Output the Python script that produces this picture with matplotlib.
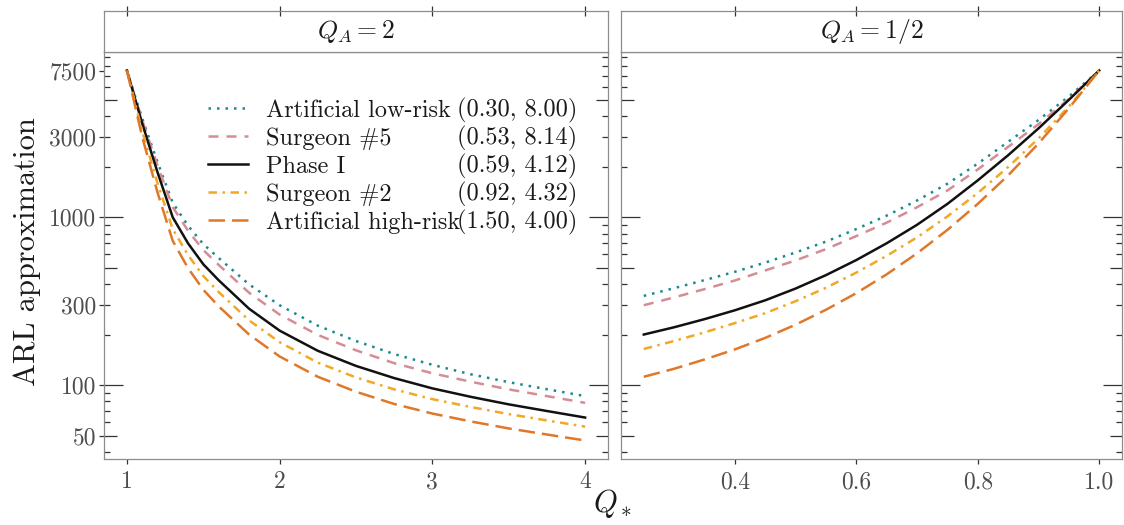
import numpy as np
import matplotlib
matplotlib.use('Agg')
import matplotlib.pyplot as plt
from matplotlib.ticker import FixedLocator, NullFormatter

plt.rcParams['font.family'] = 'serif'
plt.rcParams['font.serif'] = ['cmr10']
plt.rcParams['mathtext.fontset'] = 'cm'
plt.rcParams['axes.formatter.use_mathtext'] = True

# Q_* grid and ARL approximations for Q_A = 2
q_qa2 = [1.0, 1.1, 1.2, 1.3, 1.4, 1.5, 1.6, 1.8, 2.0, 2.25, 2.5, 2.75, 3.0, 3.25, 3.5, 3.75, 4.0]
low_risk_qa2 = [7500, 3890, 2140, 1220, 891, 692, 573, 398, 299, 226, 183, 153, 132, 116, 104, 94.4, 85.9]
surgeon5_qa2 = [7500, 3800, 2040, 1150, 832, 638, 521, 355, 263, 199, 161, 135, 117.5, 104.7, 94.2, 85.9, 78.3]
phase1_qa2 = [7500, 3630, 1860, 1000, 700, 525, 422, 285, 211, 160, 130, 110, 95.5, 85.1, 76.7, 70.0, 64.0]
surgeon2_qa2 = [7500, 3270, 1600, 851, 596, 447, 359, 243, 180, 136, 111, 94.2, 82.4, 74.0, 67.1, 61.5, 56.5]
high_risk_qa2 = [7500, 3020, 1410, 724, 498, 370, 295, 200, 148, 112, 91.2, 77.1, 67.6, 60.7, 55.1, 50.7, 46.7]

# Q_* grid and ARL approximations for Q_A = 1/2
q_qa05 = [0.25, 0.30, 0.35, 0.40, 0.45, 0.50, 0.55, 0.60, 0.65, 0.70, 0.75, 0.80, 0.85, 0.90, 0.95, 1.0]
low_risk_qa05 = [340, 378, 422, 473, 537, 617, 716, 851, 1023, 1259, 1585, 2089, 2818, 3802, 5248, 7500]
surgeon5_qa05 = [299, 333, 373, 420, 482, 553, 646, 773, 929, 1148, 1445, 1928, 2630, 3589, 5070, 7500]
phase1_qa05 = [200, 221, 247, 279, 320, 376, 452, 556, 700, 902, 1202, 1660, 2344, 3388, 5012, 7500]
surgeon2_qa05 = [164, 183, 206, 234, 268, 316, 380, 468, 589, 759, 1012, 1396, 1995, 2951, 4571, 7500]
high_risk_qa05 = [112, 125, 142, 163, 191, 229, 281, 353, 457, 610, 841, 1202, 1778, 2754, 4467, 7500]

series_names = ['Artificial low-risk', 'Surgeon #5', 'Phase I', 'Surgeon #2', 'Artificial high-risk']
series_params = ['(0.30, 8.00)', '(0.53, 8.14)', '(0.59, 4.12)', '(0.92, 4.32)', '(1.50, 4.00)']

y_breaks = [50, 100, 300, 1000, 3000, 7500]
y_labels = ['50', '100', '300', '1000', '3000', '7500']
x_breaks_qa2 = [1, 2, 3, 4]
x_labels_qa2 = ['1', '2', '3', '4']
x_breaks_qa05 = [0.4, 0.6, 0.8, 1.0]
x_labels_qa05 = ['0.4', '0.6', '0.8', '1.0']

colors = ['#1b8a8e', '#d68c95', '#111111', '#f0a825', '#e0782a']
styles = [(0, (1, 2.4)), (0, (4, 3.2)), '-', (0, (3.4, 2.2, 1, 2.2)), (0, (6.6, 2.8))]

spine_col = '#8c8c8c'
tick_col = '#333333'
text_col = '#1a1a1a'
label_col = '#4d4d4d'

W, H = 1124, 525
fig = plt.figure(figsize=(W / 100, H / 100), dpi=100)
ax_l = fig.add_axes([104 / W, 66 / H, 504 / W, 407 / H])
ax_r = fig.add_axes([621 / W, 66 / H, 501 / W, 407 / H], sharey=ax_l)
ax_l.set_yscale('log')

lines = []
for y, c, ls in zip([low_risk_qa2, surgeon5_qa2, phase1_qa2, surgeon2_qa2, high_risk_qa2], colors, styles):
    ln, = ax_l.plot(q_qa2, y, color=c, linestyle=ls, lw=1.8)
    lines.append(ln)
for y, c, ls in zip([low_risk_qa05, surgeon5_qa05, phase1_qa05, surgeon2_qa05, high_risk_qa05], colors, styles):
    ax_r.plot(q_qa05, y, color=c, linestyle=ls, lw=1.8)

ax_l.set_xticks(x_breaks_qa2, labels=x_labels_qa2)
ax_r.set_xticks(x_breaks_qa05, labels=x_labels_qa05)
ax_l.set_yticks(y_breaks, labels=y_labels)

lo, hi = ax_l.get_ylim()
ax_l.set_ylim(lo, hi)

# log ticks drawn inside both panels: long at decades, medium at 5s
log_ticks = [m * 10 ** k for k in range(1, 5) for m in range(1, 10) if lo <= m * 10 ** k <= hi]
ax_l.yaxis.set_minor_locator(FixedLocator(log_ticks))
ax_l.yaxis.set_minor_formatter(NullFormatter())

for ax in (ax_l, ax_r):
    ax.yaxis.remove_overlapping_locs = False
    ax.tick_params(axis='y', which='minor', direction='in', left=True, right=True,
                   length=4.5, width=0.9, color=tick_col)
    for tick, v in zip(ax.yaxis.get_minor_ticks(len(log_ticks)), log_ticks):
        m = round(v / 10 ** int(np.floor(np.log10(v) + 1e-9)))
        size = 13.5 if m == 1 else (9 if m == 5 else 4.5)
        tick.tick1line.set_markersize(size)
        tick.tick2line.set_markersize(size)
    ax.tick_params(axis='x', which='major', direction='out', length=3.6, width=0.9,
                   color=tick_col, labelsize=17, labelcolor=label_col, pad=5)
    for sp in ax.spines.values():
        sp.set_color(spine_col)
        sp.set_linewidth(0.9)

ax_l.tick_params(axis='y', which='major', direction='out', length=3.6, width=0.9,
                 left=True, right=False, color=tick_col, labelsize=17, labelcolor=label_col, pad=2)
ax_r.tick_params(axis='y', which='major', left=False, right=False, labelleft=False)

# facet strips
for ax, title in ((ax_l, r'$Q_A = 2$'), (ax_r, r'$Q_A = 1/2$')):
    pos = ax.get_position()
    strip = fig.add_axes([pos.x0, 473 / H, pos.width, 41 / H], sharex=ax)
    strip.set_yticks([])
    strip.tick_params(axis='x', which='both', bottom=False, labelbottom=False, top=True,
                      labeltop=False, direction='inout', length=7, width=0.9, color=tick_col)
    strip.set_facecolor('white')
    for sp in strip.spines.values():
        sp.set_color(spine_col)
        sp.set_linewidth(0.9)
    strip.text(0.5, 0.5, title, transform=strip.transAxes, ha='center', va='center',
               fontsize=18.5, color=text_col)

leg = ax_l.legend(lines, series_names, loc='upper left', bbox_to_anchor=(0.206, 0.883),
                  frameon=False, fontsize=17.5, handlelength=1.65, handletextpad=0.74,
                  labelspacing=0.23, borderpad=0, borderaxespad=0)
for t in leg.get_texts():
    t.set_color(text_col)
for t, p in zip(leg.get_texts(), series_params):
    ax_l.annotate(p, xy=(0.700, 0.5), xycoords=(ax_l.transAxes, t), ha='left', va='center',
                  fontsize=17.5, color=text_col, zorder=6)

fig.text(0.024, 0.52, 'ARL approximation', rotation=90, ha='center', va='center',
         fontsize=22, color=text_col)
fig.text(613 / W, 22 / H, r'$Q_*$', ha='center', va='center', fontsize=22, color=text_col)

fig.savefig('out.png', dpi=100)
